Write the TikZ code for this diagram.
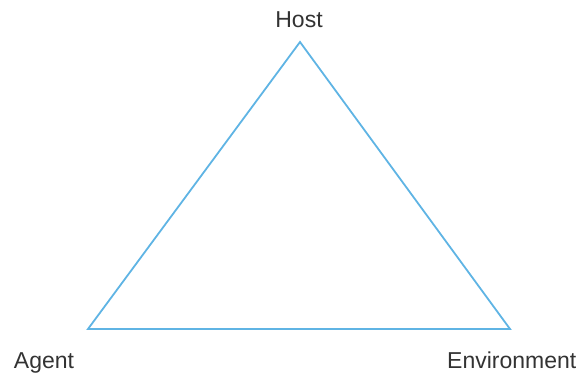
\documentclass[tikz,border=0pt]{standalone}
\usepackage{fontspec}
\setmainfont{Liberation Sans}
\usetikzlibrary{positioning}
\definecolor{lineblue}{RGB}{95,180,228}

\begin{document}
\begin{tikzpicture}[
  x=1pt, y=-1pt,
  side/.style={draw=lineblue, line width=1.8pt, line join=miter},
  lbl/.style={font=\fontsize{23}{26}\selectfont, text=black!80, inner sep=0pt}
]
\useasboundingbox (0,0) rectangle (580,374);
\coordinate (host) at (300,42);
\coordinate (agent) at (88,329);
\coordinate (env) at (510,329);

\draw[side] (host) -- (agent) -- (env) -- cycle;

\node[lbl, anchor=base] (hostlbl) at (299,28) {Host};
\node[lbl, anchor=base] (agentlbl) at (44,368) {Agent};
\node[lbl, anchor=base west] (envlbl) at (447,368) {Environment};
\end{tikzpicture}
\end{document}
